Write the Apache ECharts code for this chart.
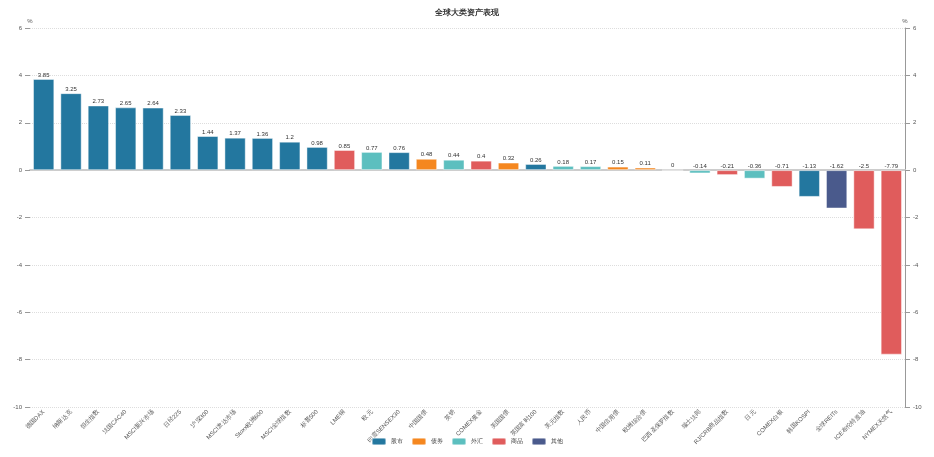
<!DOCTYPE html>
<html><head><meta charset="utf-8">
<script src="https://cdn.jsdelivr.net/npm/echarts@6/dist/echarts.min.js"></script>
<style>html,body{margin:0;padding:0;background:#fff}#c{width:934px;height:457px}</style>
</head><body><div id="c"></div>
<script>
const categories = ['德国DAX','纳斯达克','恒生指数','法国CAC40','MSCI新兴市场','日经225','沪深300','MSCI发达市场','Stoxx欧洲600','MSCI全球指数','标普500','LME铜','欧元','印度SENSEX30','中国国债','英镑','COMEX黄金','美国国债','英国富时100','美元指数','人民币','中国信用债','欧洲综合债','巴西圣保罗指数','瑞士法郎','RJ/CRB商品指数','日元','COMEX白银','韩国KOSPI','全球REITs','ICE布伦特原油','NYMEX天然气'];
const values = [3.85,3.25,2.73,2.65,2.64,2.33,1.44,1.37,1.36,1.2,0.98,0.85,0.77,0.76,0.48,0.44,0.4,0.32,0.26,0.18,0.17,0.15,0.11,0,-0.14,-0.21,-0.36,-0.71,-1.13,-1.62,-2.5,-7.79];
const groups = ['股市','股市','股市','股市','股市','股市','股市','股市','股市','股市','股市','商品','外汇','股市','债券','外汇','商品','债券','股市','外汇','外汇','债券','债券','股市','外汇','商品','外汇','商品','股市','其他','商品','商品'];
const groupNames = ['股市','债券','外汇','商品','其他'];
const colors = ['#23779f','#f5871f','#5cbfbf','#e05c5c','#4a5a8c'];
const yTicks = {min:-10,max:6,interval:2};

const chart = echarts.init(document.getElementById('c'));
const series = groupNames.map((g,gi)=>({
  name:g, type:'bar', stack:'all', barWidth:'78%',
  data: values.map((v,i)=> groups[i]===g ? v : '-'),
  itemStyle:{color:colors[gi], borderColor:'rgba(255,255,255,0.45)', borderWidth:1},
  label:{show:true, position:'top', fontSize:6, color:'#333', distance:1,
    formatter:p=>String(p.value)}
}));
const axisLabel = {fontSize:6, color:'#555'};
chart.setOption({
  animation:false,
  color:colors,
  title:{text:'全球大类资产表现', left:'center', top:4, textStyle:{fontSize:8, fontWeight:'bold', color:'#333'}},
  legend:{data:groupNames, bottom:6, itemWidth:14, itemHeight:7, itemGap:8, textStyle:{fontSize:6,color:'#333'}},
  grid:{left:30, right:29, top:28, bottom:50},
  xAxis:{type:'category', data:categories,
    axisLine:{lineStyle:{color:'#ccc', width:2}},
    axisTick:{alignWithLabel:true, lineStyle:{color:'#999'}},
    axisLabel:{rotate:45, fontSize:6, color:'#555', interval:0, margin:4}},
  yAxis:[
    {type:'value', name:'%', nameGap:4, nameTextStyle:{fontSize:6,color:'#555'}, min:yTicks.min, max:yTicks.max, interval:yTicks.interval,
     axisLine:{show:false}, axisTick:{show:true, lineStyle:{color:'#999'}}, axisLabel:axisLabel,
     splitLine:{lineStyle:{type:'dotted', color:'#ddd'}}},
    {type:'value', name:'%', nameGap:4, nameTextStyle:{fontSize:6,color:'#555'}, min:yTicks.min, max:yTicks.max, interval:yTicks.interval, position:'right',
     axisLine:{show:true, lineStyle:{color:'#999'}}, axisTick:{show:true, lineStyle:{color:'#999'}}, axisLabel:axisLabel,
     splitLine:{show:false}}
  ],
  series:series
});
</script></body></html>
